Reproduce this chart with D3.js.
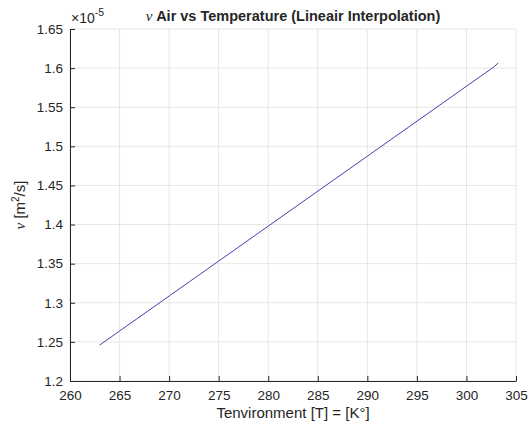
<!DOCTYPE html>
<html>
<head>
<meta charset="utf-8">
<script src="https://cdn.jsdelivr.net/npm/d3@7"></script>
<style>
  body { margin: 0; background: #fff; }
  text { font-family: "Liberation Sans", Arial, sans-serif; fill: #262626; }
</style>
</head>
<body>
<div id="chart"></div>
<script>
// data, nu in units of 1e-5 m^2/s
var temps = [263, 270, 280, 290, 300, 302.8, 303.2];
var nuVals = [1.246, 1.3086, 1.398, 1.4874, 1.5768, 1.6018, 1.6065];
var xTicks = [260, 265, 270, 275, 280, 285, 290, 295, 300, 305];
var yTicks = [1.2, 1.25, 1.3, 1.35, 1.4, 1.45, 1.5, 1.55, 1.6, 1.65];

var W = 532, H = 426;
var margin = {top: 29, right: 16, bottom: 45, left: 70};

var svg = d3.select("#chart").append("svg")
  .attr("width", W).attr("height", H);

var x = d3.scaleLinear().domain([260, 305]).range([margin.left, W - margin.right]);
var y = d3.scaleLinear().domain([1.2, 1.65]).range([H - margin.bottom, margin.top]);

// grid
svg.append("g").selectAll("line").data(xTicks).enter().append("line")
  .attr("x1", function(d) { return x(d); }).attr("x2", function(d) { return x(d); })
  .attr("y1", y(1.2)).attr("y2", y(1.65))
  .attr("stroke", "#e6e6e6").attr("stroke-width", 1);
svg.append("g").selectAll("line").data(yTicks).enter().append("line")
  .attr("y1", function(d) { return y(d); }).attr("y2", function(d) { return y(d); })
  .attr("x1", x(260)).attr("x2", x(305))
  .attr("stroke", "#e6e6e6").attr("stroke-width", 1);

// axes (ticks inward)
var xAxis = svg.append("g")
  .attr("transform", "translate(0," + y(1.2) + ")")
  .call(d3.axisBottom(x).tickValues(xTicks).tickSizeInner(-5).tickSizeOuter(0).tickPadding(9)
    .tickFormat(d3.format("d")));
var yAxis = svg.append("g")
  .attr("transform", "translate(" + x(260) + ",0)")
  .call(d3.axisLeft(y).tickValues(yTicks).tickSizeInner(-5).tickSizeOuter(0).tickPadding(7)
    .tickFormat(function(d) { return d3.format("")(+d.toFixed(2)); }));

[xAxis, yAxis].forEach(function(a) {
  a.select(".domain").attr("stroke", "#262626").attr("stroke-width", 1);
  a.selectAll(".tick line").attr("stroke", "#262626");
  a.selectAll(".tick text").attr("font-size", 13.5).attr("fill", "#262626")
    .style("font-family", "'Liberation Sans', Arial, sans-serif");
});

// line
var line = d3.line()
  .x(function(d, i) { return x(temps[i]); })
  .y(function(d) { return y(d); });
svg.append("path")
  .datum(nuVals)
  .attr("d", line)
  .attr("fill", "none")
  .attr("stroke", "#2b2bb0")
  .attr("stroke-width", 0.9);

// exponent label
var ex = svg.append("text").attr("x", x(260) + 1).attr("y", 23).attr("font-size", 14);
ex.append("tspan").text("\u00d710");
ex.append("tspan").attr("dy", -7).attr("font-size", 10.5).text("-5");

// title
var cx = (x(260) + x(305)) / 2;
var t = svg.append("text").attr("x", cx).attr("y", 21)
  .attr("text-anchor", "middle").attr("font-size", 14.5).attr("font-weight", "bold")
  .attr("fill", "#000");
t.append("tspan").attr("font-style", "italic").attr("font-weight", "normal")
  .style("font-family", "'Liberation Serif', serif").attr("font-size", 15).text("\u03bd ");
t.append("tspan").text("Air vs Temperature (Lineair Interpolation)");

// x label
svg.append("text").attr("x", cx).attr("y", 418)
  .attr("text-anchor", "middle").attr("font-size", 15)
  .text("Tenvironment [T] = [K\u00b0]");

// y label
var cy = (y(1.2) + y(1.65)) / 2;
var yl = svg.append("text")
  .attr("transform", "translate(25," + cy + ") rotate(-90)")
  .attr("text-anchor", "middle").attr("font-size", 15);
yl.append("tspan").attr("font-style", "italic")
  .style("font-family", "'Liberation Serif', serif").text("\u03bd");
yl.append("tspan").text(" [m");
yl.append("tspan").attr("dy", -6).attr("font-size", 10).text("2");
yl.append("tspan").attr("dy", 6).text("/s]");
</script>
</body>
</html>
